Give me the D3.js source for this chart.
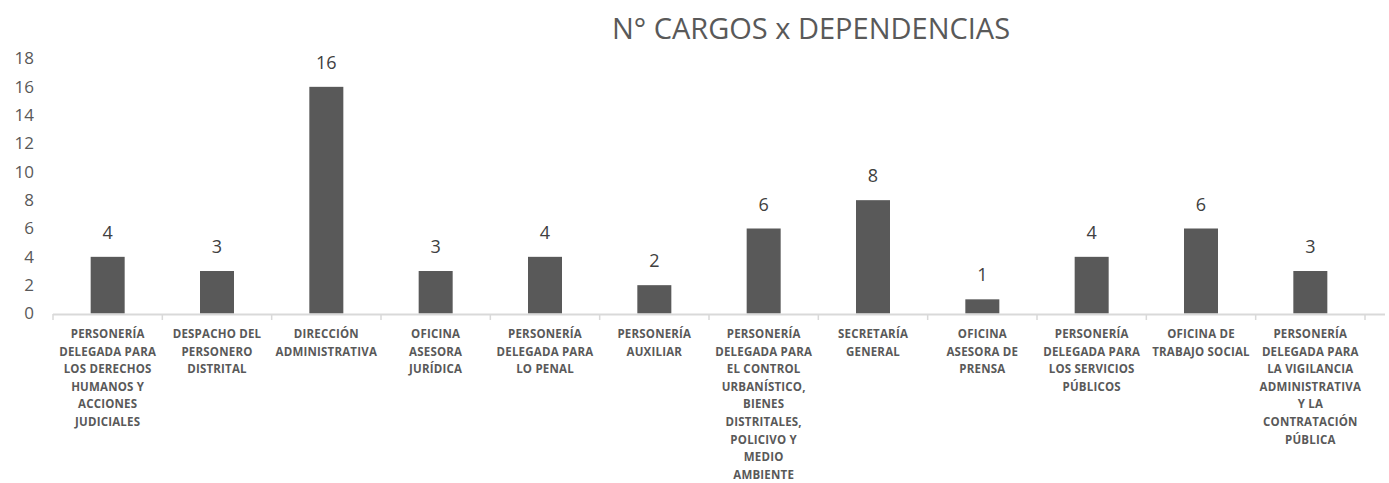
<!DOCTYPE html>
<html>
<head>
<meta charset="utf-8">
<script src="https://cdn.jsdelivr.net/npm/d3@7"></script>
<style>
  body { margin: 0; background: #fff; }
  text { font-family: "Open Sans", "Liberation Sans", sans-serif; }
</style>
</head>
<body>
<div id="chart"></div>
<script>
const title = "N° CARGOS x DEPENDENCIAS";

const categories = [
  ["PERSONERÍA", "DELEGADA PARA", "LOS DERECHOS", "HUMANOS Y", "ACCIONES", "JUDICIALES"],
  ["DESPACHO DEL", "PERSONERO", "DISTRITAL"],
  ["DIRECCIÓN", "ADMINISTRATIVA"],
  ["OFICINA", "ASESORA", "JURÍDICA"],
  ["PERSONERÍA", "DELEGADA PARA", "LO PENAL"],
  ["PERSONERÍA", "AUXILIAR"],
  ["PERSONERÍA", "DELEGADA PARA", "EL CONTROL", "URBANÍSTICO,", "BIENES", "DISTRITALES,", "POLICIVO Y", "MEDIO", "AMBIENTE"],
  ["SECRETARÍA", "GENERAL"],
  ["OFICINA", "ASESORA DE", "PRENSA"],
  ["PERSONERÍA", "DELEGADA PARA", "LOS SERVICIOS", "PÚBLICOS"],
  ["OFICINA DE", "TRABAJO SOCIAL"],
  ["PERSONERÍA", "DELEGADA PARA", "LA VIGILANCIA", "ADMINISTRATIVA", "Y LA", "CONTRATACIÓN", "PÚBLICA"]
];

const values = [4, 3, 16, 3, 4, 2, 6, 8, 1, 4, 6, 3];

const yTicks = [0, 2, 4, 6, 8, 10, 12, 14, 16, 18];

const W = 1389, H = 483;
const margin = { left: 53, right: 24, top: 58, bottom: 169 };
const width = W - margin.left - margin.right;

const svg = d3.select("#chart")
  .append("svg")
  .attr("width", W)
  .attr("height", H);

const data = categories.map((c, i) => ({ id: i, lines: c, value: values[i] }));

// === Scales ===
const x = d3.scaleBand()
  .domain(data.map(d => d.id))
  .range([margin.left, margin.left + width]);

const y = d3.scaleLinear()
  .domain([0, 18])
  .range([313.5, 58.5]);

// === Title ===
svg.append("text")
  .attr("x", 811)
  .attr("y", 39)
  .attr("text-anchor", "middle")
  .attr("fill", "#595959")
  .style("font-size", "29px")
  .text(title);

// === Y axis (labels only) ===
const yAxis = svg.append("g")
  .attr("transform", "translate(34,0)")
  .call(d3.axisLeft(y).tickValues(yTicks).tickSize(0).tickPadding(0));
yAxis.select(".domain").remove();
yAxis.selectAll("text")
  .attr("fill", "#595959")
  .style("font-size", "17px")
  .style("font-family", "\"Open Sans\", sans-serif");

// === Bars ===
const barW = 34;
svg.selectAll("rect.bar")
  .data(data)
  .join("rect")
  .attr("class", "bar")
  .attr("x", d => x(d.id) + x.bandwidth() / 2 - barW / 2)
  .attr("y", d => y(d.value))
  .attr("width", barW)
  .attr("height", d => y(0) - y(d.value))
  .attr("fill", "#595959");

// === Value labels ===
svg.selectAll("text.val")
  .data(data)
  .join("text")
  .attr("class", "val")
  .attr("x", d => x(d.id) + x.bandwidth() / 2)
  .attr("y", d => y(d.value) - 18)
  .attr("text-anchor", "middle")
  .attr("fill", "#404040")
  .style("font-size", "18px")
  .text(d => d.value);

// === X axis ===
const xAxis = svg.append("g");
xAxis.append("line")
  .attr("x1", margin.left)
  .attr("x2", margin.left + width + 20)
  .attr("y1", 314.5)
  .attr("y2", 314.5)
  .attr("stroke", "#d9d9d9")
  .attr("stroke-width", 2);

const bounds = d3.range(categories.length + 1).map(i => margin.left + i * x.step());
xAxis.selectAll("line.tick")
  .data(bounds)
  .join("line")
  .attr("class", "tick")
  .attr("x1", d => d)
  .attr("x2", d => d)
  .attr("y1", 314)
  .attr("y2", 320)
  .attr("stroke", "#d9d9d9")
  .attr("stroke-width", 1.5);

const catLabels = xAxis.selectAll("text.cat")
  .data(data)
  .join("text")
  .attr("class", "cat")
  .attr("x", d => x(d.id) + x.bandwidth() / 2)
  .attr("y", 338)
  .attr("text-anchor", "middle")
  .attr("fill", "#595959")
  .style("font-size", "11.5px")
  .style("letter-spacing", "0.2px")
  .style("font-weight", "bold");

catLabels.selectAll("tspan")
  .data(d => d.lines.map(l => ({ l, cx: x(d.id) + x.bandwidth() / 2 })))
  .join("tspan")
  .attr("x", d => d.cx)
  .attr("dy", (d, i) => i === 0 ? 0 : 17.6)
  .text(d => d.l);
</script>
</body>
</html>
